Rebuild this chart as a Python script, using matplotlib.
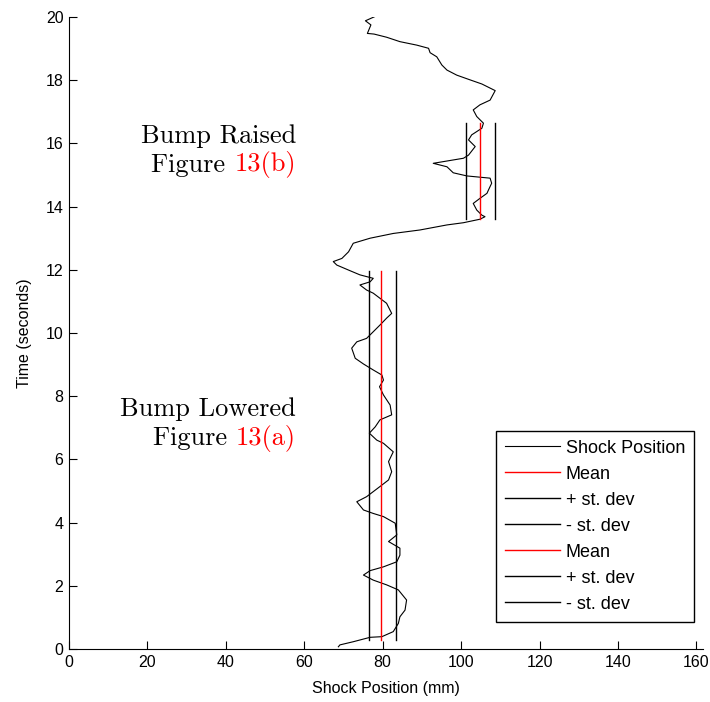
import numpy as np
import matplotlib
matplotlib.use("Agg")
import matplotlib.pyplot as plt

# shock position trace (time in s, position in mm)
t_shock = [0.07, 0.13, 0.23, 0.37, 0.39, 0.55, 0.81, 1.02, 1.23, 1.55,
           1.87, 2.03, 2.18, 2.34, 2.48, 2.60, 2.76, 2.97, 3.19, 3.40,
           3.61, 3.98, 4.19, 4.29, 4.40, 4.66, 4.82, 5.14, 5.35, 5.61,
           5.93, 6.24, 6.51, 6.61, 6.83, 7.03, 7.25, 7.41, 7.72, 8.04,
           8.30, 8.51, 8.67, 8.83, 9.02, 9.20, 9.52, 9.72, 9.83, 10.04,
           10.25, 10.47, 10.62, 10.94, 11.10, 11.26, 11.36, 11.52, 11.62, 11.73,
           11.84, 11.97, 12.15, 12.26, 12.36, 12.57, 12.84, 13.00, 13.15, 13.26,
           13.42, 13.49, 13.60, 13.68, 13.73, 13.89, 14.10, 14.26, 14.42, 14.53,
           14.74, 14.90, 14.97, 15.07, 15.26, 15.37, 15.53, 15.63, 15.90, 16.11,
           16.27, 16.48, 16.64, 16.85, 17.06, 17.22, 17.37, 17.67, 17.88, 18.01,
           18.16, 18.32, 18.48, 18.74, 18.87, 19.01, 19.11, 19.22, 19.36, 19.46,
           19.48, 19.75, 19.88, 20.03]
x_shock = [68.7, 69.1, 72.5, 76.8, 79.8, 82.7, 84.0, 84.4, 85.7, 86.1,
           84.0, 81.0, 77.6, 75.1, 76.8, 80.2, 83.6, 84.4, 84.4, 81.5,
           83.6, 83.2, 80.2, 77.6, 75.1, 73.4, 75.9, 79.3, 81.5, 82.3,
           81.5, 82.7, 80.2, 78.5, 76.6, 78.1, 79.3, 82.3, 81.9, 80.2,
           79.2, 80.2, 79.8, 77.6, 75.1, 73.0, 72.1, 73.4, 75.9, 77.6,
           79.3, 81.0, 82.3, 81.0, 79.3, 77.6, 75.9, 74.2, 76.8, 77.6,
           74.2, 71.7, 68.3, 67.4, 69.6, 71.3, 72.5, 76.8, 82.7, 89.5,
           96.4, 100.6, 104.8, 106.1, 105.3, 104.0, 103.1, 104.8, 106.6, 107.0,
           107.8, 107.4, 101.5, 98.0, 96.4, 92.9, 100.6, 101.9, 103.6, 101.9,
           102.7, 105.3, 105.7, 104.0, 103.1, 104.8, 107.4, 108.7, 105.3, 102.3,
           98.9, 96.4, 95.1, 93.8, 92.1, 91.7, 88.7, 84.4, 81.0, 77.8,
           76.1, 77.0, 75.6, 78.3]

# statistics for the two bump settings
t_lowered = [0.3, 11.95]
lowered_mean, lowered_plus, lowered_minus = 79.6, 83.4, 76.4
t_raised = [13.6, 16.65]
raised_mean, raised_plus, raised_minus = 104.9, 108.7, 101.2

plt.rcParams['font.family'] = ['Liberation Sans', 'DejaVu Sans']

fig = plt.figure(figsize=(7.1, 7.02), dpi=100)
ax = fig.add_axes([69/710, 1 - 649/702, (703 - 69)/710, (649 - 17)/702])

ax.plot(x_shock, t_shock, color='k', lw=0.8, label='Shock Position')
ax.plot([lowered_mean]*2, t_lowered, color='r', lw=1.0, label='Mean')
ax.plot([lowered_plus]*2, t_lowered, color='k', lw=1.0, label='+ st. dev')
ax.plot([lowered_minus]*2, t_lowered, color='k', lw=1.0, label='- st. dev')
ax.plot([raised_mean]*2, t_raised, color='r', lw=1.0, label='Mean')
ax.plot([raised_plus]*2, t_raised, color='k', lw=1.0, label='+ st. dev')
ax.plot([raised_minus]*2, t_raised, color='k', lw=1.0, label='- st. dev')

ax.set_xlim(0, 161.7)
ax.set_ylim(0, 20)
ax.set_xticks(np.arange(0, 161, 20))
ax.set_yticks(np.arange(0, 21, 2))
ax.spines['top'].set_visible(False)
ax.spines['right'].set_visible(False)
ax.tick_params(direction='in', length=6, labelsize=11.5, colors='k', pad=4)
ax.set_xlabel('Shock Position (mm)', fontsize=11.5, labelpad=8)
ax.set_ylabel('Time (seconds)', fontsize=11.5, labelpad=10)

leg = ax.legend(loc='lower right', bbox_to_anchor=(0.986, 0.043),
                borderaxespad=0, fontsize=13, handlelength=3.05,
                handletextpad=0.33, borderpad=0.5, labelspacing=0.5,
                fancybox=False, framealpha=1, edgecolor='k')
leg.get_frame().set_linewidth(1.0)

# two-colour annotations, right aligned
serif = {'family': 'cmr10', 'size': 19}
fig.canvas.draw()
r = fig.canvas.get_renderer()


def label(x_px, y_px, top, ref):
    fig.text(x_px/710, 1 - y_px/702, top, ha='right', va='center',
             fontdict=serif)
    red = fig.text(x_px/710, 1 - (y_px + 29)/702, ref, ha='right',
                   va='center', color='r', fontdict=serif)
    bb = red.get_window_extent(renderer=r)
    fig.text(bb.x0/710, 1 - (y_px + 29)/702, 'Figure ', ha='right',
             va='center', fontdict=serif)


label(296, 136, 'Bump Raised', '13(b)')
label(296, 409, 'Bump Lowered', '13(a)')

fig.savefig('out.png', dpi=100)
